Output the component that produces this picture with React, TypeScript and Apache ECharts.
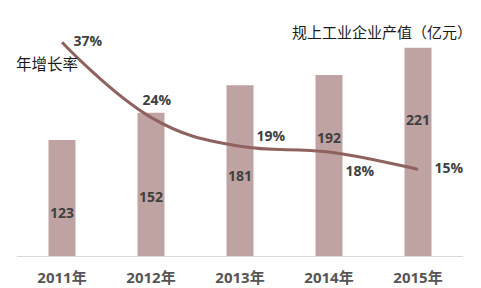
import React, { useEffect, useRef } from "react";
import * as echarts from "echarts";

const categories = ["2011年", "2012年", "2013年", "2014年", "2015年"];
const outputValues = [123, 152, 181, 192, 221];
const growthRates = [37, 24, 19, 18, 15];

const barLabelOffsets = [14, 12, 5, -28, -32];
const rateLabelPos: number[][] = [
  [12, -1],
  [-8, -17],
  [17, -10],
  [17, 19],
  [17, -1],
];

export default function App() {
  const ref = useRef<HTMLDivElement>(null);
  useEffect(() => {
    if (!ref.current) return;
    const chart = echarts.init(ref.current, undefined, { renderer: "svg" });
    const numFont = "'Open Sans', 'DejaVu Sans', sans-serif";
    chart.setOption({
      animation: false,
      backgroundColor: "#ffffff",
      title: [
        {
          text: "规上工业企业产值（亿元）",
          left: 287,
          top: 19,
          textStyle: {
            fontFamily: "'Noto Sans CJK SC', sans-serif",
            fontSize: 15,
            fontWeight: "normal",
            color: "#1a1a1a",
          },
        },
        {
          text: "年增长率",
          left: 11,
          top: 50,
          textStyle: {
            fontFamily: "'Noto Sans CJK SC', sans-serif",
            fontSize: 15.5,
            fontWeight: "normal",
            color: "#1a1a1a",
          },
        },
      ],
      grid: { left: 17.5, right: 18.5, top: 25, bottom: 32, containLabel: false },
      xAxis: {
        type: "category",
        data: categories,
        axisLine: { show: true, lineStyle: { color: "#d9d9d9", width: 1 } },
        axisTick: { show: false },
        axisLabel: {
          margin: 13,
          fontFamily: "'Open Sans', 'Noto Sans CJK SC', sans-serif",
          fontSize: 15,
          fontWeight: "bold",
          color: "#555555",
        },
      },
      yAxis: [
        { type: "value", min: 0, max: 245, show: false, splitLine: { show: false } },
        { type: "value", min: 0, max: 40, show: false, splitLine: { show: false } },
      ],
      series: [
        {
          type: "bar",
          yAxisIndex: 0,
          barWidth: 27,
          itemStyle: { color: "#bfa3a2" },
          data: outputValues.map((v, i) => ({
            value: v,
            label: {
              show: true,
              position: "inside",
              offset: [0, barLabelOffsets[i]],
              fontFamily: numFont,
              fontSize: 14,
              fontWeight: "bold",
              color: "#404040",
            },
          })),
        },
        {
          type: "line",
          yAxisIndex: 1,
          smooth: 0.4,
          symbol: "circle",
          symbolSize: 1,
          showSymbol: true,
          itemStyle: { color: "rgba(0,0,0,0)", borderWidth: 0 },
          lineStyle: { color: "#8f625f", width: 3 },
          labelLayout: { hideOverlap: false },
          data: growthRates.map((v, i) => ({
            value: v,
            label: {
              show: true,
              formatter: "{c}%",
              position: rateLabelPos[i],
              align: "left",
              verticalAlign: "middle",
              fontFamily: numFont,
              fontSize: 14,
              fontWeight: "bold",
              color: "#404040",
            },
          })),
          z: 3,
        },
      ],
    });
    return () => chart.dispose();
  }, []);
  return (
    <div
      ref={ref}
      style={{ position: "fixed", left: 0, top: 0, width: 481, height: 288 }}
    />
  );
}
